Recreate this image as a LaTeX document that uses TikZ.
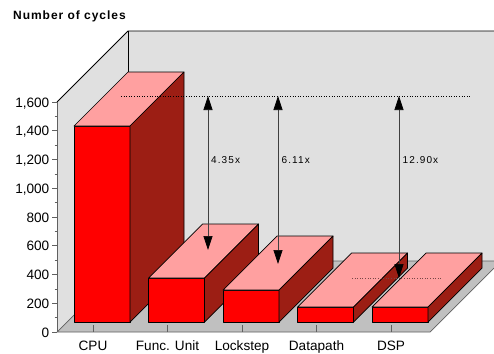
\documentclass[tikz,border=0pt]{standalone}
\usepackage{fontspec}
\setmainfont{Liberation Sans}
\usetikzlibrary{arrows.meta}
\definecolor{wallgray}{RGB}{224,224,224}
\definecolor{floorgray}{RGB}{192,192,192}
\definecolor{edgegray}{RGB}{96,96,96}
\definecolor{barfront}{RGB}{255,0,0}
\definecolor{bartop}{RGB}{255,160,160}
\definecolor{barside}{RGB}{156,30,20}
\definecolor{arrowgray}{RGB}{64,64,64}
\definecolor{refbrown}{RGB}{120,70,70}
\tikzset{
  baredge/.style={draw=black, line width=0.7pt, line join=round},
  ticklabel/.style={font=\fontsize{13.6}{15}\selectfont, inner sep=0pt, anchor=base east},
  catlabel/.style={font=\fontsize{13.6}{15}\selectfont, inner sep=0pt, anchor=base},
  ratiolabel/.style={font=\fontsize{10}{12}\selectfont\addfontfeatures{LetterSpace=11}, inner sep=0pt, anchor=base west},
  dimarrow/.style={draw=arrowgray, line width=0.7pt, {Triangle[length=14pt,width=9pt,black]}-{Triangle[length=14pt,width=9pt,black]}},
  refline/.style={dotted, line width=0.6pt},
}
\begin{document}
\begin{tikzpicture}[x=1pt,y=-1pt]
\useasboundingbox (0,0) rectangle (494,353);
\fill[white] (0,0) rectangle (494,353);
% walls
\fill[wallgray] (128,31) -- (494,31) -- (494,261) -- (128,261) -- cycle;
\fill[wallgray] (57,102) -- (128,31) -- (128,261) -- (57,332) -- cycle;
% floor
\fill[floorgray] (57,332) -- (430,332) -- (494,268) -- (494,261) -- (128,261) -- cycle;
\draw[edgegray, line width=0.7pt] (494,261) -- (128,261) -- (57,332) -- (430,332) -- (494,268);
\draw[black, line width=0.8pt] (57,102) -- (128,31) -- (494,31);
\draw[black, line width=0.8pt] (128,31) -- (128,261);
% y axis
\draw[edgegray, line width=0.8pt] (57,102) -- (57,332);
\foreach \k in {0,...,16} {
  \draw[edgegray, line width=0.7pt] (54.5,332-\k*14.375) -- (57,332-\k*14.375);
}
\foreach \v/\lab [count=\i from 0] in {0/0,200/200,400/400,600/600,800/800,1000/{1,000},1200/{1,200},1400/{1,400},1600/{1,600}} {
  \draw[edgegray, line width=0.7pt] (52,332-\i*28.75) -- (57,332-\i*28.75);
  \node[ticklabel] (ylab\i) at (49.5,337-\i*28.75) {\lab};
}
% title
\node[font=\fontsize{12}{14}\selectfont\bfseries\addfontfeatures{LetterSpace=8}, inner sep=0pt, anchor=base west] (title) at (13,20) {Number of cycles};
% bars
\foreach \a/\t [count=\i] in {74/126,148.5/278,223/290,297.5/307,372/307} {
  \filldraw[fill=barfront, baredge] (\a,\t) -- (\a+56,\t) -- (\a+56,322) -- (\a,322) -- cycle;
  \filldraw[fill=bartop, baredge] (\a,\t) -- (\a+54,\t-54) -- (\a+110,\t-54) -- (\a+56,\t) -- cycle;
  \filldraw[fill=barside, baredge] (\a+56,\t) -- (\a+110,\t-54) -- (\a+110,268) -- (\a+56,322) -- cycle;
}
% x ticks and labels
\foreach \x/\lab/\nm in {93/CPU/cpu,167.5/{Func. Unit}/fu,242/Lockstep/ls,316.5/Datapath/dp,391/DSP/dsp} {
  \draw[edgegray, line width=0.7pt] (\x,325) -- (\x,332);
  \node[catlabel] (lab\nm) at (\x,350) {\lab};
}
% reference lines
\coordinate (refAl) at (121,96.5);
\coordinate (refAr) at (470,96.5);
\coordinate (refBl) at (352,278);
\coordinate (refBr) at (442,278);
\draw[refline, black] (refAl) -- (refAr);
\draw[refline, refbrown] (refBl) -- (refBr);
% arrows
\coordinate (a1t) at (208,96);
\coordinate (a1b) at (208,250);
\coordinate (a2t) at (278,96);
\coordinate (a2b) at (278,264);
\coordinate (a3t) at (399,96);
\coordinate (a3b) at (399,278);
\draw[dimarrow] (a1b) -- (a1t);
\draw[dimarrow] (a2b) -- (a2t);
\draw[dimarrow] (a3b) -- (a3t);
\node[ratiolabel] (r1) at (211,163.5) {4.35x};
\node[ratiolabel] (r2) at (281.5,163.5) {6.11x};
\node[ratiolabel] (r3) at (402.5,163.5) {12.90x};
\end{tikzpicture}
\end{document}
